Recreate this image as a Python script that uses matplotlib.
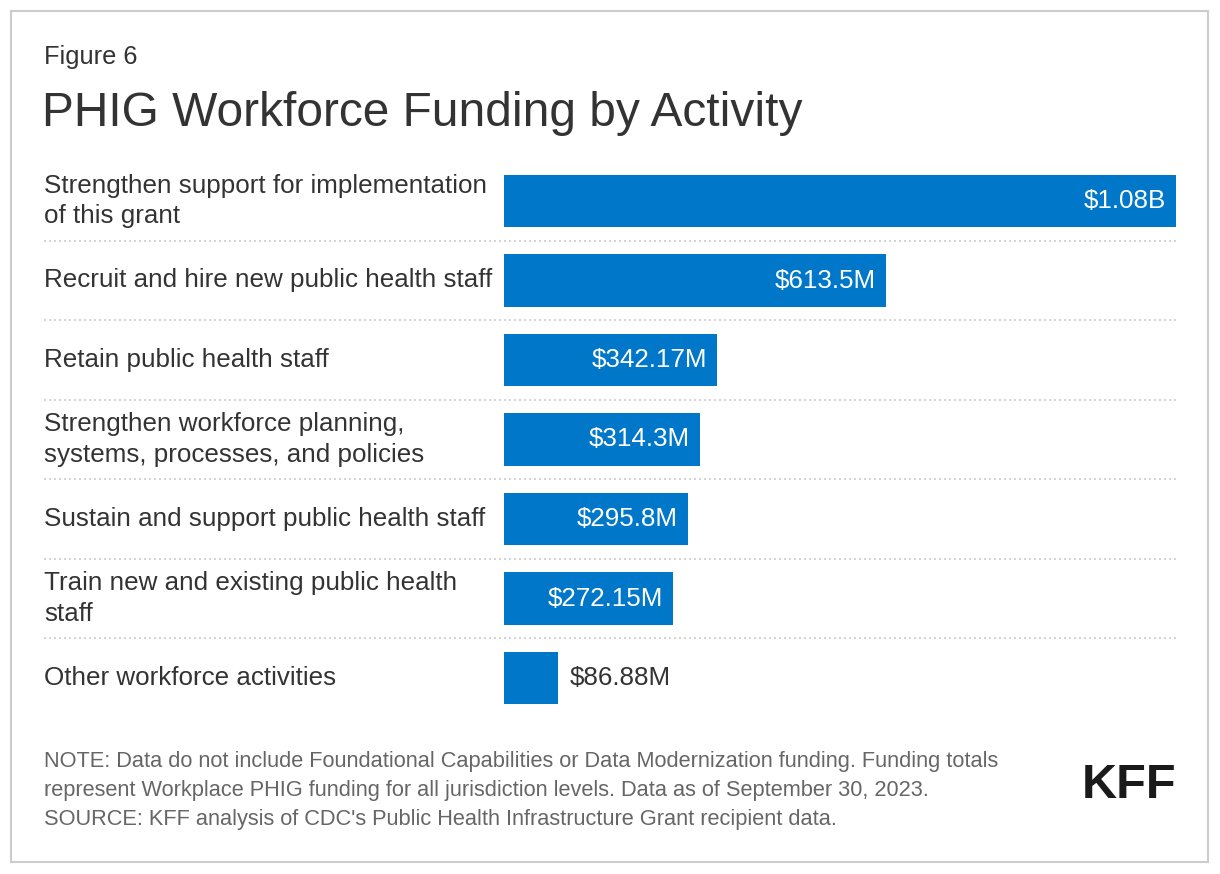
import matplotlib
matplotlib.use("Agg")
import matplotlib.pyplot as plt
from matplotlib.patches import Rectangle
import matplotlib.transforms as mtransforms

plt.rcParams['font.family'] = ['Liberation Sans', 'DejaVu Sans']

categories = [
    "Strengthen support for implementation\nof this grant",
    "Recruit and hire new public health staff",
    "Retain public health staff",
    "Strengthen workforce planning,\nsystems, processes, and policies",
    "Sustain and support public health staff",
    "Train new and existing public health\nstaff",
    "Other workforce activities",
]
values = [1080, 613.5, 342.17, 314.3, 295.8, 272.15, 86.88]
value_labels = ["$1.08B", "$613.5M", "$342.17M", "$314.3M", "$295.8M", "$272.15M", "$86.88M"]

W, H = 1220, 874
fig = plt.figure(figsize=(W / 100, H / 100), dpi=100)
fig.patch.set_facecolor("white")

# border
fig.patches.append(Rectangle((11 / W, 1 - 862 / H), (1208 - 11) / W, (862 - 11) / H,
                             transform=fig.transFigure, fill=False,
                             edgecolor="#cccccc", linewidth=1.5))

ax_left, ax_right = 504, 1176
ax_top, ax_bot = 161.25, 717.75
ax = fig.add_axes([ax_left / W, 1 - ax_bot / H, (ax_right - ax_left) / W, (ax_bot - ax_top) / H])
ax.set_xlim(0, 1080)
n = len(categories)
ax.set_ylim(n - 0.5, -0.5)
ax.axis("off")

ypos = list(range(n))
ax.barh(ypos, values, height=0.665, color="#0077c8", zorder=2)

text_color = "#333333"
fs = 18.7
trans = mtransforms.blended_transform_factory(fig.transFigure, ax.transData)
for i, (cat, v, lab) in enumerate(zip(categories, values, value_labels)):
    fig.text(44 / W, i, cat, transform=trans, ha="left", va="center",
             fontsize=fs, color=text_color, linespacing=1.32)
    if v > 200:
        ax.annotate(lab, (v, i), xytext=(-10, 0), textcoords="offset pixels",
                    ha="right", va="center", fontsize=fs, color="white")
    else:
        ax.annotate(lab, (v, i), xytext=(12, 0), textcoords="offset pixels",
                    ha="left", va="center", fontsize=fs, color=text_color)

# dotted separators
for i in range(n - 1):
    line = plt.Line2D([44 / W, ax_right / W], [i + 0.5, i + 0.5], transform=trans,
                      color="#cccccc", linewidth=1.2, linestyle=(0, (1.2, 1.8)), zorder=1)
    fig.lines.append(line)

fig.text(44 / W, 1 - 57 / H, "Figure 6", ha="left", va="center", fontsize=18.3, color=text_color)
fig.text(42 / W, 1 - 114 / H, "PHIG Workforce Funding by Activity", ha="left", va="center",
         fontsize=34.5, color=text_color)

note_color = "#666666"
notes = [
    "NOTE: Data do not include Foundational Capabilities or Data Modernization funding. Funding totals",
    "represent Workplace PHIG funding for all jurisdiction levels. Data as of September 30, 2023.",
    "SOURCE: KFF analysis of CDC's Public Health Infrastructure Grant recipient data.",
]
for k, line in enumerate(notes):
    fig.text(44 / W, 1 - (761 + 29.5 * k) / H, line, ha="left", va="center",
             fontsize=15.7, color=note_color)

fig.text(1176 / W, 1 - 786 / H, "KFF", ha="right", va="center", fontsize=35,
         fontweight="bold", color="#1a1a1a")

fig.savefig("out.png", dpi=100, facecolor="white")
